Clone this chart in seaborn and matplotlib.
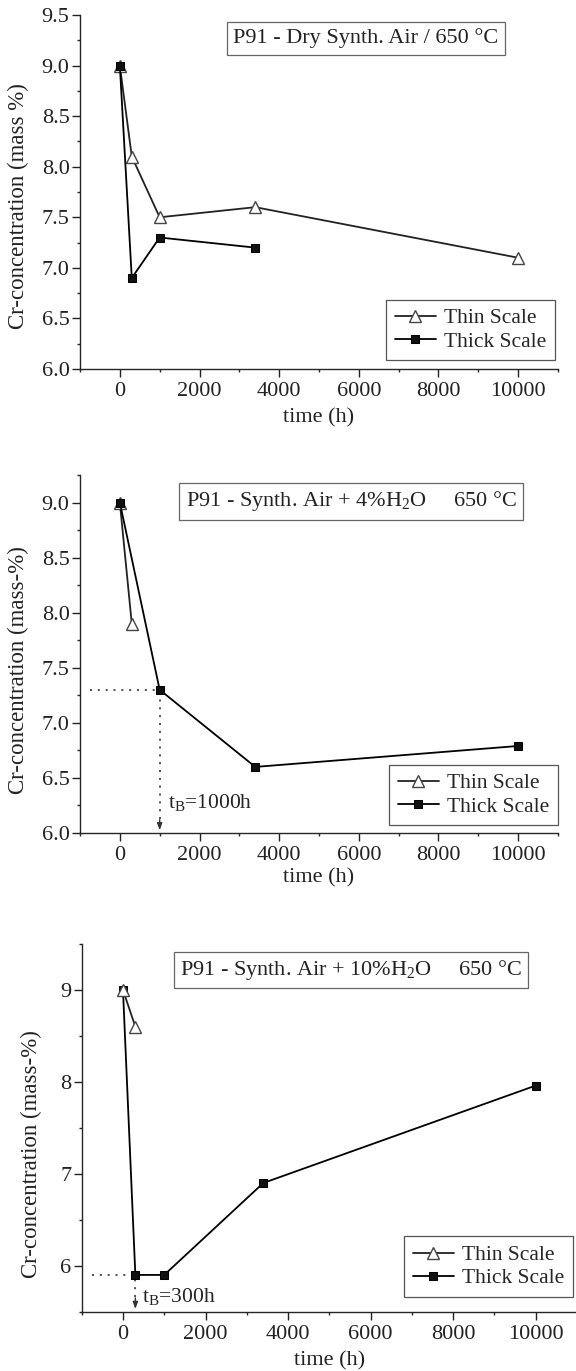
import numpy as np
import pandas as pd
import matplotlib
matplotlib.use("Agg")
import matplotlib.pyplot as plt
import seaborn as sns
from matplotlib.ticker import MultipleLocator, FormatStrFormatter

# ---------------- data ----------------
dry_thin_t = [0, 300, 1000, 3400, 10000]
dry_thin_cr = [9.0, 8.1, 7.5, 7.6, 7.1]
dry_thick_t = [0, 300, 1000, 3400]
dry_thick_cr = [9.0, 6.9, 7.3, 7.2]

h4_thin_t = [0, 300]
h4_thin_cr = [9.0, 7.9]
h4_thick_t = [0, 1000, 3400, 10000]
h4_thick_cr = [9.0, 7.3, 6.6, 6.79]

h10_thin_t = [0, 300]
h10_thin_cr = [9.0, 8.6]
h10_thick_t = [0, 300, 1000, 3400, 10000]
h10_thick_cr = [9.0, 5.9, 5.9, 6.9, 7.96]

titles = ["P91 - Dry Synth. Air / 650 °C",
          "P91 - Synth. Air + 4%H$_\\mathregular{2}$O     650 °C",
          "P91 - Synth. Air + 10%H$_\\mathregular{2}$O     650 °C"]
ylabels = ["Cr-concentration (mass %)",
           "Cr-concentration (mass-%)",
           "Cr-concentration (mass-%)"]
xlabel = "time (h)"
legend_labels = ["Thin Scale", "Thick Scale"]
tB_t = [None, 1000, 300]
tB_cr = [None, 7.3, 5.9]
tB_text = [None, "t$_\\mathregular{B}$=1000h", "t$_\\mathregular{B}$=300h"]
tB_text_t = [None, 1200, 450]
tB_text_cr = [None, 6.28, 5.66]
x_ticks = [0, 2000, 4000, 6000, 8000, 10000]

series = [
    (dry_thin_t, dry_thin_cr, dry_thick_t, dry_thick_cr),
    (h4_thin_t, h4_thin_cr, h4_thick_t, h4_thick_cr),
    (h10_thin_t, h10_thin_cr, h10_thick_t, h10_thick_cr),
]

# ---------------- style ----------------
sns.set_style("ticks")
plt.rcParams["font.family"] = ["Liberation Serif", "DejaVu Serif"]
plt.rcParams["mathtext.fontset"] = "custom"
plt.rcParams["mathtext.rm"] = "Liberation Serif"
plt.rcParams["mathtext.it"] = "Liberation Serif:italic"
plt.rcParams["axes.linewidth"] = 1.0

W, H = 576, 1371
fig = plt.figure(figsize=(W / 100, H / 100), dpi=100)

# axes boxes in pixels: left, right, top, bottom
boxes = [(80, 558, 15, 369), (80, 558, 475, 833), (81.7, 577, 944, 1311.7)]
ylims = [(6.0, 9.5), (6.0, 9.25), (5.5, 9.5)]
ymajor = [0.5, 0.5, 1.0]
yminor = [0.25, 0.25, 0.5]
yfmt = ["%.1f", "%.1f", "%d"]
title_pos = [(0.598, 0.934), (0.567, 0.926), (0.544, 0.929)]
title_size = [16, 16, 16]
leg_anchor = [(0.994, 0.025), (1.0, 0.022), (0.992, 0.04)]
ylabelpad = [9, 9, 13]
ylabel_y = [0.46, 0.455, 0.43]
thin_z = [2, 2, 4]

for i in range(3):
    l, r, t, b = boxes[i]
    ax = fig.add_axes([l / W, 1 - b / H, (r - l) / W, (b - t) / H])
    tt, tc, kt, kc = series[i]
    sns.lineplot(x=tt, y=tc, ax=ax, color="#222222", lw=1.3, marker="^",
                 markersize=8, markerfacecolor="white", markeredgecolor="#444444",
                 markeredgewidth=1.0, label=legend_labels[0], estimator=None,
                 sort=False, zorder=thin_z[i])
    sns.lineplot(x=kt, y=kc, ax=ax, color="black", lw=1.3, marker="s",
                 markersize=5.5, markerfacecolor="#111111", markeredgecolor="black",
                 label=legend_labels[1], estimator=None, sort=False, zorder=3)

    ax.set_xlim(-1000, 11000)
    ax.set_ylim(*ylims[i])
    ax.set_xticks(x_ticks)
    ax.xaxis.set_minor_locator(MultipleLocator(1000))
    ax.yaxis.set_major_locator(MultipleLocator(ymajor[i]))
    ax.yaxis.set_minor_locator(MultipleLocator(yminor[i]))
    ax.yaxis.set_major_formatter(FormatStrFormatter(yfmt[i]))
    ax.tick_params(which="major", direction="out", length=5.5, width=1.0,
                   labelsize=16, pad=2, colors="#222222")
    ax.tick_params(which="minor", direction="out", length=2.5, width=1.0)
    ax.tick_params(axis="x", which="major", pad=4)
    sns.despine(ax=ax)
    ax.set_xlabel(xlabel, fontsize=16, labelpad=2 if i == 1 else 5, color="#222222")
    ax.set_ylabel(ylabels[i], fontsize=16.5, labelpad=ylabelpad[i], color="#222222")
    ax.yaxis.label.set_y(ylabel_y[i])

    ax.text(title_pos[i][0], title_pos[i][1], titles[i], transform=ax.transAxes,
            ha="center", va="center", fontsize=title_size[i], color="#222222",
            bbox=dict(boxstyle="square,pad=0.28", facecolor="white",
                      edgecolor="#666666", linewidth=0.9))

    leg = ax.legend(loc="lower right", bbox_to_anchor=leg_anchor[i],
                    borderaxespad=0, fontsize=15.5, frameon=True, fancybox=False,
                    handlelength=1.9, handletextpad=0.4, labelspacing=0.15,
                    borderpad=0.4, framealpha=1)
    leg.get_frame().set_edgecolor("#555555")
    leg.get_frame().set_linewidth(0.9)

    if tB_t[i] is not None:
        y0 = ylims[i][0]
        span = ylims[i][1] - y0
        ax.plot([-750, tB_t[i]], [tB_cr[i], tB_cr[i]], ls=(0, (1.2, 3.5)),
                color="#333333", lw=1.2, zorder=1)
        ax.plot([tB_t[i], tB_t[i]], [y0 + 0.04 * span, tB_cr[i]],
                ls=(0, (1.2, 3.5)), color="#333333", lw=1.2, zorder=1)
        ax.annotate("", xy=(tB_t[i], y0), xytext=(tB_t[i], y0 + 0.045 * span),
                    arrowprops=dict(arrowstyle="-|>,head_length=0.4,head_width=0.15",
                                    color="#333333", lw=1.0))
        ax.text(tB_text_t[i], tB_text_cr[i], tB_text[i], fontsize=15.5,
                ha="left", va="center", color="#222222")

fig.savefig("out.png", dpi=100)
